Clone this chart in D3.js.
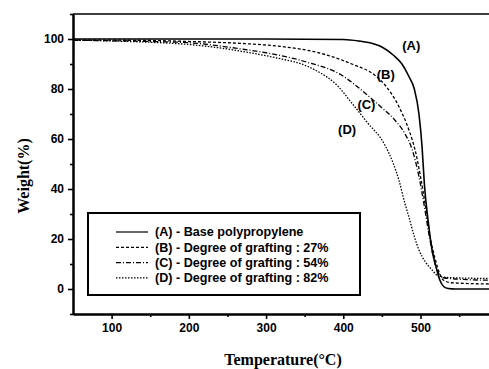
<!DOCTYPE html>
<html>
<head>
<meta charset="utf-8">
<script src="https://cdn.jsdelivr.net/npm/d3@7"></script>
<style>
  body { margin: 0; background: #fff; }
  svg { display: block; }
  .tick text { font-family: "Liberation Sans", Arial, sans-serif; font-weight: bold; font-size: 12px; fill: #000; }
</style>
</head>
<body>
<div id="chart"></div>
<script>
// TGA curves: temperature (C) -> weight (%)
var tempA = [50, 200, 300, 400, 420, 440, 450, 465, 476, 485, 492, 498, 502, 505, 510, 515, 520, 525, 530, 536, 545, 590];
var weightA = [100, 100, 100, 99.8, 99.2, 98, 96.8, 93.5, 90, 85, 80, 70, 57, 42, 27, 15.6, 9, 3.6, 1, 0.2, 0, 0];

var tempB = [50, 150, 200, 250, 281, 320, 368, 411, 443, 454, 472, 485, 493, 500, 507, 513, 519, 525, 530, 540, 590];
var weightB = [99.6, 99.4, 99, 98.5, 98, 97, 94.5, 90, 85, 81.6, 73, 63.6, 55.6, 45, 32, 20, 12, 6, 3.5, 2.5, 2];

var tempC = [50, 150, 200, 268, 300, 350, 398, 420, 437, 450, 467, 480, 489, 498, 505, 512, 518, 524, 530, 545, 590];
var weightC = [99.5, 99, 98.5, 96, 94.5, 91, 85.5, 80.5, 76, 72.5, 67.5, 62, 56, 45, 33, 20, 11, 6, 4.5, 4, 3.5];

var tempD = [50, 100, 150, 200, 250, 281, 320, 346, 370, 389, 411, 430, 454, 465, 472, 480, 485, 492, 498, 506, 515, 524, 535, 590];
var weightD = [99.6, 99.2, 98.7, 97.8, 96, 94.4, 92, 90, 86.5, 82.4, 74.4, 67, 57.5, 50, 43.6, 34, 28.8, 21, 15.6, 11, 7.6, 5, 4.6, 4.2];

var seriesNames = ["(A) - Base polypropylene", "(B) - Degree of grafting : 27%", "(C) - Degree of grafting : 54%", "(D) - Degree of grafting : 82%"];
var curveTags = ["(A)", "(B)", "(C)", "(D)"];
// where each tag sits on the chart, in data units
var tagTemp = [488, 455, 430, 405];
var tagWeight = [97.5, 86, 74, 64];

var xTicks = [100, 200, 300, 400, 500];
var yTicks = [0, 20, 40, 60, 80, 100];

var W = 489, H = 369;
var margin = {top: 14, right: 0, bottom: 55, left: 73};

var svg = d3.select("#chart").append("svg")
  .attr("width", W)
  .attr("height", H);

var x = d3.scaleLinear().domain([50, 590]).range([margin.left, 490]);
var y = d3.scaleLinear().domain([-10, 110]).range([H - margin.bottom, margin.top]);

var dashes = [null, "3,2", "5,2,1,2", "1.5,1.5"];

var line = d3.line()
  .x(function(d) { return x(d[0]); })
  .y(function(d) { return y(d[1]); })
  .curve(d3.curveMonotoneX);

var data = [
  d3.zip(tempA, weightA),
  d3.zip(tempB, weightB),
  d3.zip(tempC, weightC),
  d3.zip(tempD, weightD)
];

svg.selectAll(".curve")
  .data(data)
  .enter().append("path")
  .attr("class", "curve")
  .attr("d", line)
  .attr("fill", "none")
  .attr("stroke", "#000")
  .attr("stroke-width", function(d, i) { return i == 0 ? 1.6 : 1.3; })
  .attr("stroke-dasharray", function(d, i) { return dashes[i]; });

// axes
svg.append("g")
  .attr("transform", "translate(0," + y(-10) + ")")
  .call(d3.axisBottom(x).tickValues(xTicks).tickSize(5).tickSizeOuter(0).tickPadding(4));
svg.append("g")
  .attr("transform", "translate(0," + y(-10) + ")")
  .call(d3.axisBottom(x).tickValues(d3.range(150, 590, 100)).tickSize(3).tickSizeOuter(0).tickFormat(""));

svg.append("g")
  .attr("transform", "translate(" + x(50) + ",0)")
  .call(d3.axisLeft(y).tickValues(yTicks).tickSize(5).tickSizeOuter(0).tickPadding(4));
svg.append("g")
  .attr("transform", "translate(" + x(50) + ",0)")
  .call(d3.axisLeft(y).tickValues([-10, 10, 30, 50, 70, 90, 110]).tickSize(3).tickSizeOuter(0).tickFormat(""));

svg.selectAll(".domain").attr("stroke", "#000").attr("stroke-width", 2);
svg.selectAll(".tick line").attr("stroke", "#000").attr("stroke-width", 1.6);

// top frame line
svg.append("line")
  .attr("x1", x(50)).attr("x2", W)
  .attr("y1", y(110)).attr("y2", y(110))
  .attr("stroke", "#000").attr("stroke-width", 1.5);

// curve tags
svg.selectAll(".tag")
  .data(curveTags)
  .enter().append("text")
  .attr("x", function(d, i) { return x(tagTemp[i]); })
  .attr("y", function(d, i) { return y(tagWeight[i]); })
  .attr("text-anchor", "middle")
  .attr("dy", "0.35em")
  .style("font-family", "Liberation Sans, Arial, sans-serif")
  .style("font-weight", "bold")
  .style("font-size", "13px")
  .text(function(d) { return d; });

// legend
var legend = svg.append("g").attr("transform", "translate(88,213)");
legend.append("rect")
  .attr("width", 272).attr("height", 82)
  .attr("fill", "#fff")
  .attr("stroke", "#000").attr("stroke-width", 2);

var rows = legend.selectAll(".row")
  .data(seriesNames)
  .enter().append("g")
  .attr("transform", function(d, i) { return "translate(0," + (19 + i * 15.3) + ")"; });
rows.append("line")
  .attr("x1", 28).attr("x2", 60)
  .attr("stroke", "#000")
  .attr("stroke-width", 1.2)
  .attr("stroke-dasharray", function(d, i) { return dashes[i]; });
rows.append("text")
  .attr("x", 67)
  .attr("dy", "0.35em")
  .style("font-family", "Liberation Sans, Arial, sans-serif")
  .style("font-weight", "bold")
  .style("font-size", "12.6px")
  .text(function(d) { return d; });

// axis titles
svg.append("text")
  .attr("x", 283).attr("y", 365)
  .attr("text-anchor", "middle")
  .style("font-family", "Liberation Serif, Times New Roman, serif")
  .style("font-weight", "bold")
  .style("font-size", "16px")
  .text("Temperature(\u00b0C)");

svg.append("text")
  .attr("transform", "translate(29,176) rotate(-90)")
  .attr("text-anchor", "middle")
  .style("font-family", "Liberation Serif, Times New Roman, serif")
  .style("font-weight", "bold")
  .style("font-size", "16px")
  .text("Weight(%)");
</script>
</body>
</html>
